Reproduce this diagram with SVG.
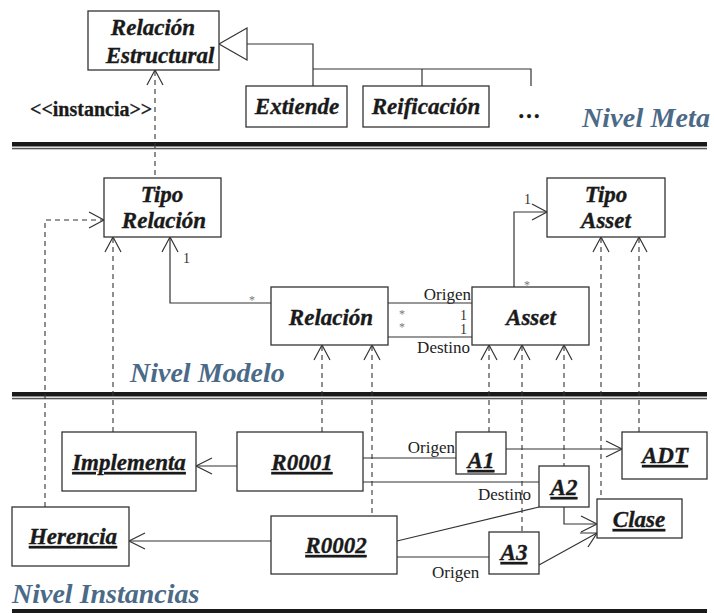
<svg xmlns="http://www.w3.org/2000/svg" width="714" height="613" viewBox="0 0 714 613">
<defs>
<style>
.box{fill:#fff;stroke:#333;stroke-width:1.3}
.lbl{font-family:"Liberation Serif","Times New Roman",serif;font-weight:bold;font-style:italic;font-size:23px;fill:#1a1a1a;stroke:#1a1a1a;stroke-width:0.35;text-anchor:middle}
.ul{text-decoration:underline}
.lvl{font-family:"Liberation Serif","Times New Roman",serif;font-weight:bold;font-style:italic;font-size:28px;fill:#4b6a88}
.sm{font-family:"Liberation Serif","Times New Roman",serif;font-size:17px;fill:#222}
.mult{font-family:"Liberation Serif","Times New Roman",serif;font-size:14px;fill:#333}
.star{font-family:"Liberation Serif","Times New Roman",serif;font-size:12px;fill:#777}
.ln{fill:none;stroke:#333;stroke-width:1.2}
.dash{fill:none;stroke:#333;stroke-width:1.1;stroke-dasharray:5 4}
.ah{fill:none;stroke:#333;stroke-width:1.2}
</style>
</defs>
<rect width="714" height="613" fill="#fff"/>

<!-- level separators -->
<g id="separators">
<rect x="12" y="142" width="695" height="4.5" fill="#1a1a1a"/>
<rect x="12" y="147.8" width="695" height="1.5" fill="#555"/>
<rect x="12" y="392" width="695" height="4.5" fill="#1a1a1a"/>
<rect x="12" y="397.8" width="695" height="1.5" fill="#555"/>
<rect x="12" y="609" width="695" height="4" fill="#1a1a1a"/>
</g>

<g id="levels">
<text class="lvl" x="582" y="127" textLength="128">Nivel Meta</text>
<text class="lvl" x="130" y="382">Nivel Modelo</text>
<text class="lvl" x="12" y="603">Nivel Instancias</text>
</g>

<g id="connectors">
<!-- generalization -->
<polygon points="219,44 247,28 247,60" fill="#fff" stroke="#333" stroke-width="1.2"/>
<polyline class="ln" points="247,44 313,44 313,86"/>
<polyline class="ln" points="313,69 531,69 531,86"/>
<line class="ln" x1="422" y1="69" x2="422" y2="86"/>
<!-- instancia -->
<line class="dash" x1="155" y1="71" x2="155" y2="178"/>
<polyline class="ah" points="147,85 155,70 163,85"/>
<!-- dashed to Tipo Relacion -->
<polyline class="dash" points="45,507 45,220 103,220"/>
<polyline class="ah" points="89,212 104,220 89,228"/>
<line class="dash" x1="113" y1="238" x2="113" y2="432"/>
<polyline class="ah" points="105,252 113,237 121,252"/>
<!-- association Relacion -> Tipo Relacion -->
<polyline class="ln" points="271,303 170,303 170,238"/>
<polyline class="ah" points="162,252 170,237 178,252"/>
<text class="mult" x="183" y="263">1</text>
<text class="star" x="249" y="304">*</text>
<!-- Relacion - Asset -->
<line class="ln" x1="388" y1="303" x2="472" y2="303"/>
<line class="ln" x1="388" y1="337" x2="472" y2="337"/>
<text class="sm" x="471" y="300" text-anchor="end">Origen</text>
<text class="sm" x="470" y="353" text-anchor="end">Destino</text>
<text class="star" x="399"><tspan x="399" y="318">*</tspan><tspan x="399" y="331">*</tspan></text>
<text class="mult" x="460"><tspan x="460" y="320">1</tspan><tspan x="460" y="334">1</tspan></text>
<!-- Asset -> Tipo Asset -->
<polyline class="ln" points="514,287 514,212 546,212"/>
<polyline class="ah" points="532,204 547,212 532,220"/>
<text class="mult" x="524" y="204">1</text>
<text class="star" x="524" y="289">*</text>
<!-- dashed from Relacion -->
<line class="dash" x1="322" y1="346" x2="322" y2="432"/>
<polyline class="ah" points="314,360 322,345 330,360"/>
<line class="dash" x1="372" y1="346" x2="372" y2="516"/>
<polyline class="ah" points="364,360 372,345 380,360"/>
<!-- dashed from Asset -->
<line class="dash" x1="489" y1="346" x2="489" y2="432"/>
<polyline class="ah" points="481,360 489,345 497,360"/>
<line class="dash" x1="522" y1="346" x2="522" y2="532"/>
<polyline class="ah" points="514,360 522,345 530,360"/>
<line class="dash" x1="564" y1="346" x2="564" y2="466"/>
<polyline class="ah" points="556,360 564,345 572,360"/>
<!-- dashed from Tipo Asset -->
<line class="dash" x1="601" y1="238" x2="601" y2="499"/>
<polyline class="ah" points="593,252 601,237 609,252"/>
<line class="dash" x1="639" y1="238" x2="639" y2="432"/>
<polyline class="ah" points="631,252 639,237 647,252"/>
<!-- instance links -->
<line class="ln" x1="237" y1="466" x2="197" y2="466"/>
<polyline class="ah" points="212,458 196,466 212,474"/>
<line class="ln" x1="271" y1="541" x2="130" y2="541"/>
<polyline class="ah" points="145,533 129,541 145,549"/>
<line class="ln" x1="363" y1="458" x2="456" y2="458"/>
<text class="sm" x="455" y="453" text-anchor="end">Origen</text>
<line class="ln" x1="363" y1="482" x2="539" y2="482"/>
<text class="sm" x="478" y="500">Destino</text>
<line class="ln" x1="506" y1="449" x2="621" y2="449"/>
<polyline class="ah" points="606,441 622,449 606,457"/>
<polyline class="ln" points="564,507 564,524 596,524"/>
<polyline class="ah" points="581,516 597,524 581,532"/>
<line class="ln" x1="397" y1="541" x2="539" y2="507"/>
<line class="ln" x1="397" y1="557" x2="489" y2="557"/>
<text class="sm" x="432" y="578">Origen</text>
<line class="ln" x1="539" y1="565" x2="597" y2="533"/>
<polyline class="ah" points="580,533 597,533 588,547"/>
</g>

<g id="relacion-estructural">
<rect class="box" x="88" y="11" width="131" height="59"/>
<text class="lbl" x="153" y="35">Relación</text>
<text class="lbl" x="160" y="63">Estructural</text>
</g>
<g id="extiende">
<rect class="box" x="246" y="86" width="101" height="41"/>
<text class="lbl" x="297" y="114">Extiende</text>
</g>
<g id="reificacion">
<rect class="box" x="363" y="86" width="126" height="41"/>
<text class="lbl" x="426" y="114">Reificación</text>
</g>
<g id="mas">
<text class="lbl" x="529" y="118" style="font-style:normal">…</text>
</g>
<g id="instancia-label">
<text x="30" y="116" font-family="'Liberation Serif','Times New Roman',serif" font-weight="bold" font-size="20" fill="#1a1a1a" stroke="#1a1a1a" stroke-width="0.3">&lt;&lt;instancia&gt;&gt;</text>
</g>

<g id="tipo-relacion">
<rect class="box" x="104" y="178" width="117" height="59"/>
<text class="lbl" x="162" y="202">Tipo</text>
<text class="lbl" x="164" y="228">Relación</text>
</g>
<g id="tipo-asset">
<rect class="box" x="547" y="178" width="118" height="59"/>
<text class="lbl" x="606" y="202">Tipo</text>
<text class="lbl" x="606" y="228">Asset</text>
</g>
<g id="relacion">
<rect class="box" x="271" y="287" width="117" height="58"/>
<text class="lbl" x="331" y="325">Relación</text>
</g>
<g id="asset">
<rect class="box" x="472" y="287" width="117" height="58"/>
<text class="lbl" x="531" y="325">Asset</text>
</g>

<g id="implementa">
<rect class="box" x="62" y="432" width="134" height="59"/>
<text class="lbl ul" x="129" y="470">Implementa</text>
</g>
<g id="r0001">
<rect class="box" x="237" y="432" width="126" height="59"/>
<text class="lbl ul" x="302" y="470">R0001</text>
</g>
<g id="herencia">
<rect class="box" x="12" y="507" width="117" height="59"/>
<text class="lbl ul" x="73" y="544">Herencia</text>
</g>
<g id="r0002">
<rect class="box" x="271" y="516" width="126" height="58"/>
<text class="lbl ul" x="336" y="553">R0002</text>
</g>
<g id="a1">
<rect class="box" x="456" y="432" width="50" height="42"/>
<text class="lbl ul" x="481" y="468">A1</text>
</g>
<g id="a2">
<rect class="box" x="539" y="466" width="50" height="41"/>
<text class="lbl ul" x="564" y="495">A2</text>
</g>
<g id="a3">
<rect class="box" x="489" y="532" width="50" height="42"/>
<text class="lbl ul" x="514" y="560">A3</text>
</g>
<g id="adt">
<rect class="box" x="622" y="432" width="85" height="47"/>
<text class="lbl ul" x="665" y="463">ADT</text>
</g>
<g id="clase">
<rect class="box" x="597" y="499" width="85" height="39"/>
<text class="lbl ul" x="639" y="527">Clase</text>
</g>
</svg>
